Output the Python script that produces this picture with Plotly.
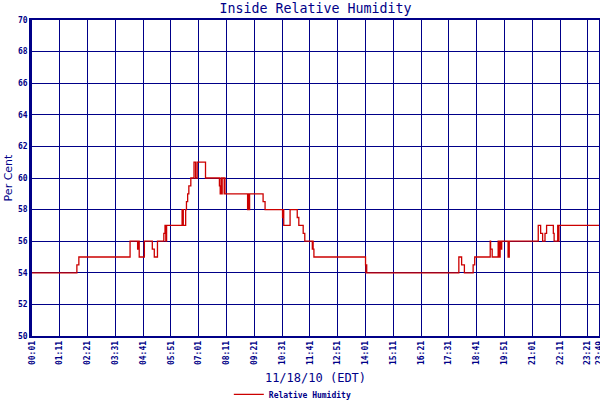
import plotly.graph_objects as go

# Change points of the step series (time, % RH)
times = ["00:01", "01:54", "01:59", "04:08", "04:27", "04:29", "04:31", "04:44",
         "05:04", "05:09", "05:17", "05:33", "05:36", "05:38", "05:40",
         "06:19", "06:22", "06:28", "06:30", "06:33", "06:36", "06:41",
         "06:49", "06:53", "06:57", "07:18", "07:53", "07:55", "07:57", "07:59",
         "08:00", "08:05", "08:06", "08:07", "09:04", "09:06", "09:07", "09:09",
         "09:43", "09:48", "10:32", "10:34", "10:35", "10:51", "11:09", "11:13",
         "11:24", "11:28", "11:47", "11:48", "11:49", "11:51", "14:01", "14:02",
         "14:03", "14:04", "17:56", "18:03", "18:10", "18:32", "18:36",
         "19:15", "19:16", "19:20", "19:35", "19:36", "19:37", "19:38", "19:40",
         "19:41", "19:44", "20:00", "20:01", "20:02", "20:03", "21:16", "21:22",
         "21:27", "21:33", "21:37", "21:54", "21:56", "22:05", "22:06", "22:08",
         "23:49"]
humidity = [54, 54.5, 55, 56, 55.5, 56, 55, 56,
            55.5, 55, 56, 56.5, 57, 56, 57,
            58, 57, 58, 58.5, 59, 59.5, 60,
            61, 60, 61, 60, 59.5, 59, 60, 59,
            60, 59, 60, 59, 58, 59, 58, 59,
            58.5, 58, 57.5, 58, 57, 58, 57.5, 57,
            56.5, 56, 55.5, 56, 55.5, 55, 54.5, 54,
            54.5, 54, 55, 54.5, 54, 54.5, 55,
            56, 55.5, 55, 56, 55.5, 56, 55, 56,
            55.5, 56, 55, 56, 55, 56, 57, 56.5,
            56, 56.5, 57, 56.5, 56, 57, 56, 57,
            57]

tick_labels = ["00:01", "01:11", "02:21", "03:31", "04:41", "05:51", "07:01",
               "08:11", "09:21", "10:31", "11:41", "12:51", "14:01", "15:11",
               "16:21", "17:31", "18:41", "19:51", "21:01", "22:11", "23:21", "23:49"]
y_ticks = [50, 52, 54, 56, 58, 60, 62, 64, 66, 68, 70]


def to_min(t):
    h, m = t.split(":")
    return int(h) * 60 + int(m)


xs = [to_min(t) for t in times]
tick_vals = [to_min(t) for t in tick_labels]

NAVY = "#000088"
fig = go.Figure()
fig.add_trace(go.Scatter(
    x=xs, y=humidity, mode="lines", line_shape="hv",
    line=dict(color="#CC0000", width=1.3),
    name="Relative Humidity",
))

fig.update_layout(
    width=600, height=400,
    margin=dict(l=32, r=1, t=20, b=64, autoexpand=False),
    paper_bgcolor="white", plot_bgcolor="white",
    title=dict(text="Inside Relative Humidity", x=0.5, xref="paper",
               y=0.978, yref="container", yanchor="middle", automargin=False,
               font=dict(family="DejaVu Sans Mono", size=13.3, color=NAVY)),
    showlegend=True,
    legend=dict(orientation="h", x=0.46, xanchor="center", y=-0.185, yanchor="middle",
                font=dict(family="DejaVu Sans Mono", size=8, color=NAVY, weight="bold"),
                itemwidth=30, bgcolor="rgba(0,0,0,0)"),
    font=dict(family="DejaVu Sans Mono", color=NAVY),
)
fig.update_xaxes(
    range=[to_min("00:01"), to_min("23:49")], automargin=False,
    tickmode="array", tickvals=tick_vals, ticktext=tick_labels,
    ticklabeloverflow="allow",
    tickangle=-90, tickfont=dict(family="DejaVu Sans Mono", size=8, color=NAVY, weight="bold"),
    showgrid=True, gridcolor=NAVY, gridwidth=1.2,
    showline=True, linecolor=NAVY, linewidth=1.5, mirror=True,
    zeroline=False, ticks="",
    title=dict(text="11/18/10 (EDT)", standoff=10,
               font=dict(family="DejaVu Sans Mono", size=12, color=NAVY)),
)
fig.update_yaxes(
    range=[50, 70], automargin=False, tickmode="array", tickvals=y_ticks,
    tickfont=dict(family="DejaVu Sans Mono", size=8, color=NAVY, weight="bold"),
    showgrid=True, gridcolor=NAVY, gridwidth=1.2,
    showline=True, linecolor=NAVY, linewidth=2.5, mirror=True,
    zeroline=False, ticks="",
    title=dict(text="Per Cent", standoff=4,
               font=dict(family="DejaVu Sans", size=11, color=NAVY)),
)

fig.write_html("out.html", config={"displayModeBar": False},
               post_script="document.body.style.margin='0';")
